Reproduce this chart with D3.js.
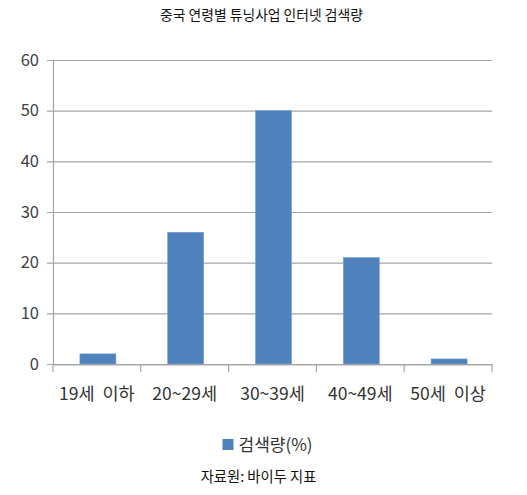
<!DOCTYPE html>
<html>
<head>
<meta charset="utf-8">
<script src="https://cdn.jsdelivr.net/npm/d3@7"></script>
<style>
  body { margin: 0; background: #fff; }
  svg text { font-family: "Noto Sans CJK KR", "Noto Sans", sans-serif; fill: #333; }
</style>
</head>
<body>
<script>
// data
const categories = ["19세  이하", "20~29세", "30~39세", "40~49세", "50세  이상"];
const values = [2, 26, 50, 21, 1];
const yTicks = [0, 10, 20, 30, 40, 50, 60];
const seriesName = "검색량(%)";
const titleText = "중국 연령별 튜닝사업 인터넷 검색량";
const sourceText = "자료원: 바이두 지표";

const W = 527, H = 495;
const margin = { top: 60, right: 35, bottom: 131, left: 53 };
const width = W - margin.left - margin.right;
const height = H - margin.top - margin.bottom;
const barColor = "#4f81bd";
const gridColor = "#a6a6a6";

const svg = d3.select("body").append("svg")
  .attr("width", W)
  .attr("height", H);

svg.append("text")
  .attr("x", W / 2 - 2)
  .attr("y", 20)
  .attr("text-anchor", "middle")
  .style("font-size", "13.8px")
  .style("fill", "#111")
  .text(titleText);

const g = svg.append("g")
  .attr("transform", "translate(" + margin.left + "," + margin.top + ")");

let xScale = d3.scaleBand().domain(categories).range([0, width]).paddingInner(0.59).paddingOuter(0.295);
let yScale = d3.scaleLinear().domain([0, 60]).range([height, 0]);

// gridlines
g.append("g")
  .selectAll("line")
  .data(yTicks)
  .enter()
  .append("line")
  .attr("x1", -6)
  .attr("x2", width)
  .attr("y1", d => yScale(d) + 0.5)
  .attr("y2", d => yScale(d) + 0.5)
  .attr("stroke", gridColor)
  .attr("stroke-width", 1.2);

// y axis
const yAxis = g.append("g")
  .call(d3.axisLeft(yScale).tickValues(yTicks).tickSize(0).tickPadding(14));
yAxis.select(".domain").attr("stroke", gridColor).attr("stroke-width", 1.2);
yAxis.selectAll("text").style("font-size", "16.5px").style("fill", "#404040");

// bars
g.selectAll(".bar")
  .data(values)
  .enter()
  .append("rect")
  .attr("class", "bar")
  .attr("x", (d, i) => xScale(categories[i]) + 1)
  .attr("width", xScale.bandwidth())
  .attr("y", d => yScale(d))
  .attr("height", d => height - yScale(d))
  .attr("fill", barColor)
  .attr("stroke", "#7a9fd0")
  .attr("stroke-width", 0.6);

// x axis
const xAxis = g.append("g")
  .attr("transform", "translate(0," + (height + 0.5) + ")")
  .call(d3.axisBottom(xScale).tickSize(0).tickPadding(23));
xAxis.select(".domain").attr("stroke", gridColor).attr("stroke-width", 1.2);
xAxis.selectAll("text").style("font-size", "17.5px").style("fill", "#333").style("white-space", "pre");

// category separators
g.append("g")
  .selectAll("line")
  .data(d3.range(categories.length + 1))
  .enter()
  .append("line")
  .attr("x1", d => d * width / categories.length)
  .attr("x2", d => d * width / categories.length)
  .attr("y1", height)
  .attr("y2", height + 8)
  .attr("stroke", gridColor)
  .attr("stroke-width", 1.2);

// legend
const legend = svg.append("g")
  .attr("transform", "translate(" + (W / 2) + ",445)");
legend.append("rect")
  .attr("x", -41)
  .attr("y", -6)
  .attr("width", 11)
  .attr("height", 11)
  .attr("fill", barColor);
legend.append("text")
  .attr("x", -25)
  .attr("y", 0)
  .attr("dy", "0.35em")
  .style("font-size", "17px")
  .style("fill", "#333")
  .text(seriesName);

svg.append("text")
  .attr("x", W / 2 - 5)
  .attr("y", 477)
  .attr("dy", "0.35em")
  .attr("text-anchor", "middle")
  .style("font-size", "14.3px")
  .style("fill", "#111")
  .text(sourceText);
</script>
</body>
</html>
